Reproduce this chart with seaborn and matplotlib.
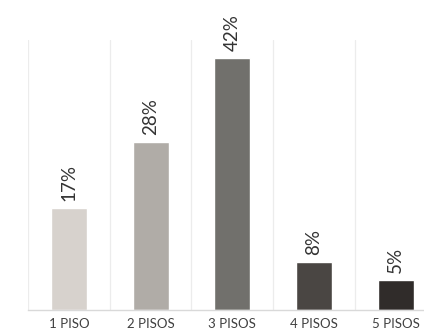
import matplotlib
matplotlib.use("Agg")
import matplotlib.pyplot as plt
import seaborn as sns
import pandas as pd
from matplotlib.ticker import FixedLocator

categories = ["1 PISO", "2 PISOS", "3 PISOS", "4 PISOS", "5 PISOS"]
values = [17, 28, 42, 8, 5]
bar_colors = ["#d7d2cd", "#b0aca7", "#71706c", "#4a4643", "#302c2a"]

sns.set_theme(style="white")
plt.rcParams["font.family"] = ["Lato", "DejaVu Sans"]

df = pd.DataFrame({"piso": categories, "pct": values})

fig = plt.figure(figsize=(4.24, 3.34), dpi=100)
ax = fig.add_axes([28 / 424, 24 / 334, 408.5 / 424, 270 / 334])

sns.barplot(data=df, x="piso", y="pct", hue="piso", palette=bar_colors,
            width=0.44, legend=False, ax=ax, saturation=1)

ax.set_xlim(-0.5, 4.5)
ax.set_ylim(0, 45)
ax.set_xlabel("")
ax.set_ylabel("")
ax.set_yticks([])

# vertical separators between categories
ax.xaxis.set_minor_locator(FixedLocator([i - 0.5 for i in range(6)]))
ax.grid(which="minor", axis="x", color="#ececec", linewidth=0.9)
ax.tick_params(axis="x", which="both", length=0, labelsize=9.5,
               labelcolor="#404040", pad=6)

for s in ["top", "right", "left"]:
    ax.spines[s].set_visible(False)
ax.spines["bottom"].set_color("#d9d9d9")
ax.spines["bottom"].set_linewidth(1.0)

for i, v in enumerate(values):
    ax.annotate(f"{v}%", (i, v), xytext=(0, 5), textcoords="offset points",
                rotation=90, ha="center", va="bottom", fontsize=13.5,
                color="#333333")

fig.savefig("out.png", dpi=100)
